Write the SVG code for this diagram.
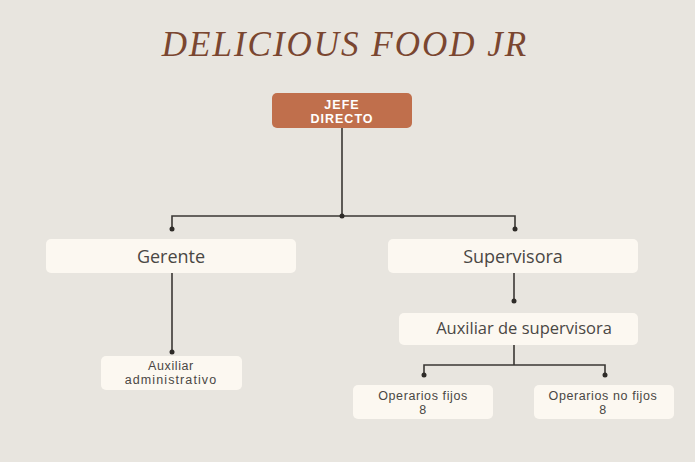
<svg xmlns="http://www.w3.org/2000/svg" width="695" height="462" viewBox="0 0 695 462">
<style>
.bg{fill:#e8e5df}
.box{fill:#fcf8f1}
.t{font-family:"Open Sans","Liberation Sans",sans-serif;fill:#4a4744;text-anchor:middle}
.s{font-family:"Liberation Sans",Arial,sans-serif;fill:#4a4744;text-anchor:middle;font-size:12.5px;letter-spacing:0.6px}
.w{font-family:"Liberation Sans",Arial,sans-serif;fill:#ffffff;text-anchor:middle;font-size:12.5px;font-weight:bold;letter-spacing:1px}
.line{stroke:#3a3734;stroke-width:1.6;fill:none}
.dot{fill:#2e2b28}
</style>
<rect class="bg" x="0" y="0" width="695" height="462"/>
<text x="345" y="56" font-family="'Liberation Serif',serif" font-style="italic" font-size="35" fill="#7a4630" text-anchor="middle" letter-spacing="2">DELICIOUS FOOD JR</text>
<g id="connectors">
<path class="line" d="M342 128V216M172 229V216H515V229"/>
<circle class="dot" cx="342" cy="216" r="2.5"/>
<circle class="dot" cx="172" cy="229" r="2.5"/>
<circle class="dot" cx="515" cy="229" r="2.5"/>
<path class="line" d="M172 273V352"/>
<circle class="dot" cx="172" cy="352" r="2.5"/>
<path class="line" d="M514 273V301"/>
<circle class="dot" cx="514" cy="301" r="2.5"/>
<path class="line" d="M514 345V365M424 375V365H605V375"/>
<circle class="dot" cx="424" cy="375" r="2.5"/>
<circle class="dot" cx="605" cy="375" r="2.5"/>
</g>
<g id="jefe">
<rect x="272" y="93" width="140" height="35" rx="5" fill="#c06f4c"/>
<text class="w" x="342" y="109">JEFE</text>
<text class="w" x="342" y="123">DIRECTO</text>
</g>
<g id="gerente">
<rect class="box" x="46" y="239" width="250" height="34" rx="5"/>
<text class="t" x="171" y="263" font-size="18">Gerente</text>
</g>
<g id="supervisora">
<rect class="box" x="388" y="239" width="250" height="34" rx="5"/>
<text class="t" x="513" y="263" font-size="18">Supervisora</text>
</g>
<g id="aux-admin">
<rect class="box" x="101" y="356" width="141" height="34" rx="5"/>
<text class="s" x="171" y="370">Auxiliar</text>
<text class="s" x="171" y="384" style="letter-spacing:1.1px">administrativo</text>
</g>
<g id="aux-super">
<rect class="box" x="399" y="313" width="239" height="32" rx="5"/>
<text class="t" x="524" y="334" font-size="16.5">Auxiliar de supervisora</text>
</g>
<g id="op-fijos">
<rect class="box" x="353" y="385" width="140" height="34" rx="5"/>
<text class="s" x="423" y="400">Operarios fijos</text>
<text class="s" x="423" y="414">8</text>
</g>
<g id="op-nofijos">
<rect class="box" x="534" y="385" width="140" height="34" rx="5"/>
<text class="s" x="603" y="400">Operarios no fijos</text>
<text class="s" x="603" y="414">8</text>
</g>
</svg>
